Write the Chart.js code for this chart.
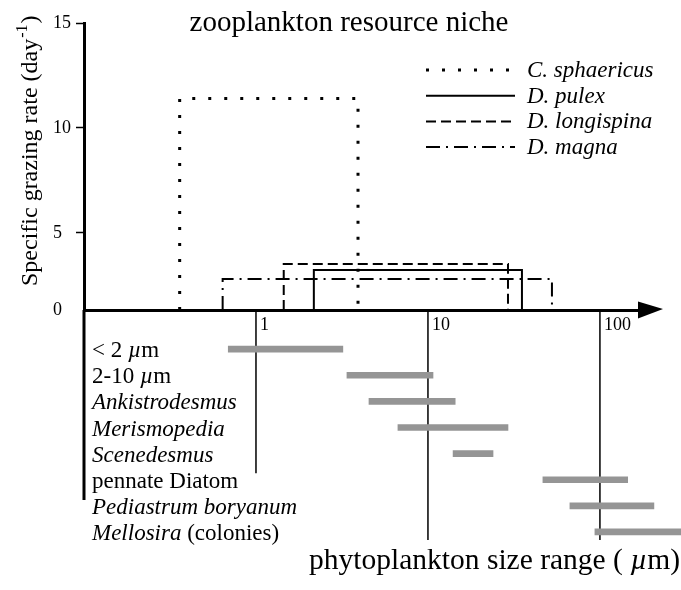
<!DOCTYPE html>
<html>
<head>
<meta charset="utf-8">
<title>zooplankton resource niche</title>
<script src="https://cdn.jsdelivr.net/npm/chart.js@4.4.1/dist/chart.umd.min.js"></script>
<style>
  html, body { margin: 0; padding: 0; background: #fff; }
</style>
</head>
<body>
<canvas id="niche" width="681" height="590"></canvas>
<script>
// Zooplankton grazing niches: particle size range vs specific grazing rate
const chartTitle = 'zooplankton resource niche';
const zooNames = ['C. sphaericus', 'D. pulex', 'D. longispina', 'D. magna'];
const zooSizeFrom = [0.36, 2.17, 1.45, 0.64];
const zooSizeTo = [3.92, 35.2, 29.2, 52.6];
const zooRate = [11.4, 3.24, 3.52, 2.81];

// Phytoplankton size ranges (um), one row each below the axis
const phytoNames = ['< 2 µm', '2-10 µm', 'Ankistrodesmus', 'Merismopedia', 'Scenedesmus',
    'pennate Diatom', 'Pediastrum boryanum', 'Mellosira (colonies)'];
const phytoFrom = [0.69, 3.38, 4.54, 6.69, 14.0, 46.6, 66.9, 93.5];
const phytoTo = [3.2, 10.7, 14.4, 29.2, 23.9, 145, 206, 381];

// Tick labels
const sizeTicks = [1, 10, 100];
const rateTicks = [0, 5, 10, 15];

// The drawn size axis sits a little above true zero on the rate scale; it is labelled "0"
const RATE_BASE = 1.33;
const ROW_TOP = -1.5;
const ROW_BOTTOM = 7.5;
// how far each size guide line and the left spine run down into the rows
const guideDepth = [4.75, 7.31, 7.31];
const SPINE_DEPTH = 5.78;

const SERIF = '"Liberation Serif", "Times New Roman", serif';
const zooDash = [[3, 13], [], [10, 5], [14, 6, 2, 6]];
const zooWidth = [3, 2, 2, 2];

function font(size, italic) {
    return (italic ? 'italic ' : '') + size + 'px ' + SERIF;
}

function nicheBox(i) {
    return [
        {x: zooSizeFrom[i], y: RATE_BASE},
        {x: zooSizeFrom[i], y: zooRate[i]},
        {x: zooSizeTo[i], y: zooRate[i]},
        {x: zooSizeTo[i], y: RATE_BASE}
    ];
}

// genus names in italics, the micro sign too
function labelParts(label) {
    const m = label.match(/^(.*?)µ(.*)$/);
    if (m) return [[m[1], false], ['µ', true], [m[2], false]];
    if (label === 'pennate Diatom') return [[label, false]];
    const k = label.indexOf(' (');
    if (k > 0) return [[label.slice(0, k), true], [label.slice(k), false]];
    return [[label, true]];
}

function partsWidth(ctx, parts, size) {
    let w = 0;
    for (const [text, italic] of parts) {
        ctx.font = font(size, italic);
        w += ctx.measureText(text).width;
    }
    return w;
}

function drawParts(ctx, parts, x, y, size) {
    for (const [text, italic] of parts) {
        ctx.font = font(size, italic);
        ctx.fillText(text, x, y);
        x += ctx.measureText(text).width;
    }
}

const datasets = [];

zooNames.forEach((name, i) => {
    datasets.push({
        type: 'line',
        label: name,
        data: nicheBox(i),
        xAxisID: 'x',
        yAxisID: 'y',
        borderColor: '#000',
        borderWidth: zooWidth[i],
        borderDash: zooDash[i],
        borderCapStyle: 'butt',
        borderJoinStyle: 'miter',
        pointRadius: 0,
        tension: 0,
        fill: false,
        clip: false
    });
});

datasets.push({
    type: 'bar',
    label: 'phytoplankton',
    indexAxis: 'y',
    xAxisID: 'x',
    yAxisID: 'yRows',
    data: phytoNames.map((n, i) => ({y: i, x: [phytoFrom[i], phytoTo[i]]})),
    backgroundColor: '#959595',
    borderWidth: 0,
    barThickness: 6,
    clip: false
});

sizeTicks.forEach((v, i) => {
    datasets.push({
        type: 'line',
        label: 'guide ' + v,
        data: [{x: v, y: ROW_TOP}, {x: v, y: guideDepth[i]}],
        xAxisID: 'x',
        yAxisID: 'yRows',
        borderColor: '#000',
        borderWidth: 1.5,
        pointRadius: 0,
        clip: false
    });
});

datasets.push({
    type: 'line',
    label: 'spine',
    data: [{x: 0.1, y: ROW_TOP}, {x: 0.1, y: SPINE_DEPTH}],
    xAxisID: 'x',
    yAxisID: 'yRows',
    borderColor: '#000',
    borderWidth: 3,
    pointRadius: 0,
    clip: false
});

const decorPlugin = {
    id: 'decor',
    afterDraw(chart) {
        const {ctx, scales} = chart;
        const xs = scales.x, ys = scales.y, yr = scales.yRows;
        const axisY = ys.getPixelForValue(RATE_BASE);
        ctx.save();
        ctx.fillStyle = '#000';
        ctx.strokeStyle = '#000';

        // arrow head on the size axis
        ctx.beginPath();
        ctx.moveTo(xs.right - 2, axisY - 8.5);
        ctx.lineTo(xs.right + 23, axisY - 1);
        ctx.lineTo(xs.right - 2, axisY + 8.5);
        ctx.closePath();
        ctx.fill();

        // title
        ctx.textBaseline = 'alphabetic';
        ctx.font = font(29, false);
        ctx.textAlign = 'center';
        ctx.fillText(chartTitle, 349, 31);
        ctx.textAlign = 'left';

        // rate axis title, with superscript
        ctx.save();
        ctx.translate(37, 286);
        ctx.rotate(-Math.PI / 2);
        ctx.font = font(24, false);
        const main = 'Specific grazing rate (day';
        ctx.fillText(main, 0, 0);
        let off = ctx.measureText(main).width;
        ctx.font = font(16, false);
        ctx.fillText('-1', off + 1, -10);
        off += ctx.measureText('-1').width + 2;
        ctx.font = font(24, false);
        ctx.fillText(')', off, 0);
        ctx.restore();

        // legend
        zooNames.forEach((name, i) => {
            const y = 70 + i * 25.7;
            ctx.save();
            ctx.lineWidth = zooWidth[i];
            ctx.setLineDash(zooDash[i]);
            ctx.beginPath();
            ctx.moveTo(426, y);
            ctx.lineTo(515, y);
            ctx.stroke();
            ctx.restore();
            ctx.font = font(23, true);
            ctx.fillText(name, 527, y + 7);
        });

        // phytoplankton row labels
        phytoNames.forEach((name, i) => {
            const y = yr.getPixelForValue(i);
            drawParts(ctx, labelParts(name), 92, y + 8, 23);
        });

        // size axis title
        const xt = [['phytoplankton size range ( ', false], ['µ', true], ['m)', false]];
        const w = partsWidth(ctx, xt, 29.5);
        drawParts(ctx, xt, 680 - w, 569, 29.5);

        ctx.restore();
    }
};

new Chart(document.getElementById('niche'), {
    type: 'line',
    data: {datasets},
    options: {
        responsive: false,
        animation: false,
        events: [],
        layout: {padding: {left: 53, top: 23, right: 41, bottom: 45}},
        plugins: {
            legend: {display: false},
            tooltip: {enabled: false},
            title: {display: false}
        },
        scales: {
            // left boxes are stacked in reverse order, so the rows scale is listed first
            yRows: {
                type: 'linear',
                position: 'left',
                stack: 'left',
                stackWeight: 235,
                reverse: true,
                offset: false, // bar defaults would pad the index axis
                min: ROW_TOP,
                max: ROW_BOTTOM,
                afterFit: s => { s.width = 31; },
                grid: {display: false},
                border: {display: false},
                ticks: {display: false}
            },
            y: {
                type: 'linear',
                position: 'left',
                stack: 'left',
                stackWeight: 287,
                min: RATE_BASE,
                max: 15,
                afterBuildTicks: s => {
                    s.ticks = rateTicks.map(v => ({value: v === 0 ? RATE_BASE : v}));
                },
                afterFit: s => { s.width = 31; },
                grid: {
                    drawOnChartArea: false,
                    drawTicks: true,
                    tickLength: 8,
                    tickWidth: 1.5,
                    tickColor: c => (c.tick && c.tick.value === RATE_BASE) ? 'rgba(0,0,0,0)' : '#000'
                },
                border: {display: true, width: 3, color: '#000'},
                ticks: {
                    color: '#000',
                    font: {family: SERIF, size: 18},
                    crossAlign: 'far',
                    padding: 0,
                    callback: (v, i) => String(rateTicks[i])
                }
            },
            x: {
                type: 'logarithmic',
                position: {y: RATE_BASE},
                min: 0.1,
                max: 171,
                afterBuildTicks: s => { s.ticks = sizeTicks.map(v => ({value: v})); },
                // the axis floats in the middle; keep it from taking room at the bottom
                afterFit: s => { s.height = 0; },
                grid: {display: false, drawTicks: false},
                border: {display: true, width: 3, color: '#000'},
                ticks: {
                    color: '#000',
                    font: {family: SERIF, size: 18},
                    align: 'start',
                    labelOffset: 4,
                    padding: 4,
                    maxRotation: 0,
                    autoSkip: false,
                    callback: (v, i) => String(sizeTicks[i])
                }
            }
        }
    },
    plugins: [decorPlugin]
});
</script>
</body>
</html>
